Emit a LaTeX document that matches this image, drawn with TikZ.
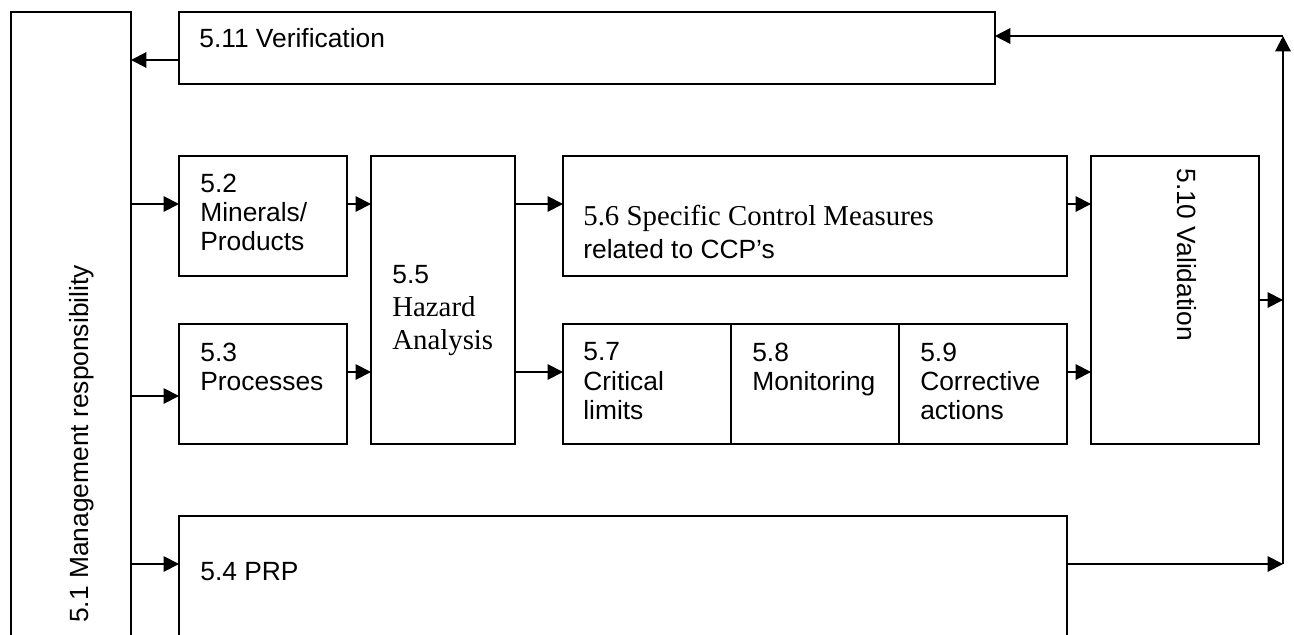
\documentclass[tikz,border=0pt]{standalone}
\usepackage{fontspec}
\setmainfont{Liberation Serif}
\setsansfont{Liberation Sans}
\usepackage{tikz}
\usetikzlibrary{positioning,calc,arrows.meta}
\newcommand{\sanstxt}{\sffamily\fontsize{15}{16.7}\selectfont}
\newcommand{\seriftxt}{\rmfamily\fontsize{16.4}{18.7}\selectfont}

\begin{document}
\begin{tikzpicture}[x=0.02cm, y=-0.02cm,
        box/.style={draw, line width=0.9pt, rectangle, anchor=north west, inner sep=0pt, outer sep=0pt},
        lbl/.style={anchor=north west, align=left, inner sep=0pt, font=\sanstxt},
        arr/.style={-{Triangle[length=0.31cm, width=0.31cm]}, line width=1.1pt}]
        \useasboundingbox (0,0) rectangle (1294,635);
        \clip (0,0) rectangle (1294,635);
        % boxes
        \node[box, minimum width=2.4cm, minimum height=12.96cm] (mgmt) at (11,12) {};
        \node[box, minimum width=16.32cm, minimum height=1.44cm] (verif) at (179,12) {};
        \node[box, minimum width=3.36cm, minimum height=2.4cm] (minerals) at (179,156) {};
        \node[box, minimum width=3.36cm, minimum height=2.4cm] (processes) at (179,324) {};
        \node[box, minimum width=2.88cm, minimum height=5.76cm] (hazard) at (371,156) {};
        \node[box, minimum width=10.08cm, minimum height=2.4cm] (ccp) at (563,156) {};
        \node[box, minimum width=3.36cm, minimum height=2.4cm] (crit) at (563,324) {};
        \node[box, minimum width=3.36cm, minimum height=2.4cm] (monit) at (crit.north east) {};
        \node[box, minimum width=3.36cm, minimum height=2.4cm] (correct) at (monit.north east) {};
        \node[box, minimum width=3.36cm, minimum height=5.76cm] (valid) at (1091,156) {};
        \node[box, minimum width=17.76cm, minimum height=2.88cm] (prp) at (179,516) {};
        % texts
        \node[lbl, rotate=90, anchor=base west] (mgmt-t) at ([shift={(77,611)}]mgmt.north west) {5.1 Management responsibility};
        \node[lbl] (verif-t) at ([shift={(20,16.5)}]verif.north west) {5.11 Verification};
        \node[lbl] (minerals-t) at ([shift={(21,17.5)}]minerals.north west) {5.2\\Minerals/\\Products};
        \node[lbl] (processes-t) at ([shift={(21,18.5)}]processes.north west) {5.3\\Processes};
        \node[lbl, font=\seriftxt] (hazard-t) at ([shift={(21,109.5)}]hazard.north west) {{\sanstxt 5.5}\\Hazard\\Analysis};
        \node[lbl, font=\seriftxt] (ccp-t) at ([shift={(20,49.3)}]ccp.north west) {5.6 Specific Control Measures\\{\sanstxt related to CCP’s}};
        \node[lbl] (crit-t) at ([shift={(20,18.5)}]crit.north west) {5.7\\Critical\\limits};
        \node[lbl] (monit-t) at ([shift={(21,18.5)}]monit.north west) {5.8\\Monitoring};
        \node[lbl] (correct-t) at ([shift={(21,18.5)}]correct.north west) {5.9\\Corrective\\actions};
        \node[lbl, rotate=-90, anchor=base west] (valid-t) at ([shift={(86,12)}]valid.north west) {5.10 Validation};
        \node[lbl] (prp-t) at ([shift={(21,46.5)}]prp.north west) {5.4 PRP};
        % arrows
        \coordinate (railtop) at (1283,36);
        \coordinate (railbot) at (1283,564);
        \draw[arr] (verif.west |- 0,60) -- (mgmt.east |- 0,60);
        \draw[arr] (mgmt.east |- 0,204) -- (minerals.west |- 0,204);
        \draw[arr] (mgmt.east |- 0,396) -- (processes.west |- 0,396);
        \draw[arr] (mgmt.east |- railbot) -- (prp.west |- railbot);
        \draw[arr] (minerals.east |- 0,204) -- (hazard.west |- 0,204);
        \draw[arr] (processes.east |- 0,372) -- (hazard.west |- 0,372);
        \draw[arr] (hazard.east |- 0,204) -- (ccp.west |- 0,204);
        \draw[arr] (hazard.east |- 0,372) -- (crit.west |- 0,372);
        \draw[arr] (ccp.east |- 0,204) -- (valid.west |- 0,204);
        \draw[arr] (correct.east |- 0,372) -- (valid.west |- 0,372);
        \draw[arr] (valid.east |- 0,300) -- (railtop |- 0,300);
        \draw[arr] (prp.east |- railbot) -- (railbot);
        \draw[arr, line width=1.3pt] (railbot) -- (railtop);
        \draw[arr] (railtop) -- (verif.east |- railtop);
    \end{tikzpicture}
\end{document}
